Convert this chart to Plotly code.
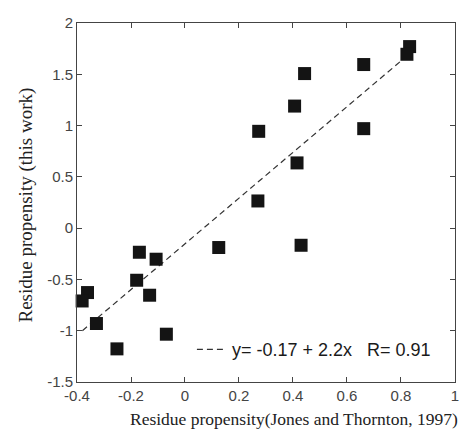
import plotly.graph_objects as go

# residue propensities: Jones & Thornton (1997) vs this work
jt_propensity = [0.832, 0.822, 0.662, 0.443, 0.406, 0.273, 0.662, 0.415, 0.270, 0.125,
                 0.430, -0.169, -0.107, -0.179, -0.131, -0.361, -0.381, -0.328, -0.069, -0.252]
this_work = [1.77, 1.695, 1.595, 1.507, 1.19, 0.944, 0.97, 0.636, 0.265, -0.189,
             -0.167, -0.235, -0.303, -0.508, -0.654, -0.628, -0.71, -0.93, -1.034, -1.177]

# fitted line y = -0.17 + 2.2x, end points as drawn
fit_x = [-0.38, 0.80]
fit_y = [-1.0, 1.63]
fit_label = "y= -0.17 + 2.2x&nbsp;&nbsp;&nbsp;R= 0.91"

x_ticks = [-0.4, -0.2, 0, 0.2, 0.4, 0.6, 0.8, 1]
x_labels = ["-0.4", "-0.2", "0", "0.2", "0.4", "0.6", "0.8", "1"]
y_ticks = [-1.5, -1, -0.5, 0, 0.5, 1, 1.5, 2]
y_labels = ["-1.5", "-1", "-0.5", "0", "0.5", "1", "1.5", "2"]

fig = go.Figure()
fig.add_trace(go.Scatter(x=fit_x, y=fit_y, mode="lines", name=fit_label,
                         line=dict(color="#333333", width=1.2, dash="6px,4px")))
fig.add_trace(go.Scatter(x=jt_propensity, y=this_work, mode="markers", showlegend=False,
                         cliponaxis=False,
                         marker=dict(symbol="square", size=13, color="#141414",
                                     line=dict(width=0))))

axis_common = dict(showgrid=False, zeroline=False, showline=True, mirror="ticks",
                   linecolor="#444444", linewidth=1, ticks="inside", ticklen=5,
                   tickcolor="#444444", automargin=False, ticklabeloverflow="allow",
                   tickfont=dict(family="Liberation Sans", size=15, color="#444444"))
fig.update_xaxes(range=[-0.4, 1.0001], tickvals=x_ticks, ticktext=x_labels, **axis_common)
fig.update_yaxes(range=[-1.5, 2], tickvals=y_ticks, ticktext=y_labels, **axis_common)

# axis titles as annotations so they can sit off-centre like the original
title_font = dict(family="Liberation Serif", size=17.5, color="#222222")
fig.add_annotation(text="Residue propensity(Jones and Thornton, 1997)", font=title_font,
                   xref="paper", yref="paper", x=0.574, y=0, xanchor="center",
                   yanchor="middle", yshift=-37, showarrow=False)
fig.add_annotation(text="Residue propensity (this work)", font=dict(title_font, size=19),
                   xref="paper", yref="paper", x=0, y=0.5, xanchor="center",
                   yanchor="middle", xshift=-52, yshift=-3, textangle=-90, showarrow=False)

fig.update_layout(width=464, height=438, margin=dict(l=77, r=9, t=23, b=56),
                  plot_bgcolor="white", paper_bgcolor="white",
                  legend=dict(x=0.304, y=0.09, xanchor="left", yanchor="middle",
                              bgcolor="rgba(0,0,0,0)", itemwidth=30,
                              font=dict(family="Liberation Sans", size=18, color="#1a1a1a")))

# drop the default body margin so the page does not scroll (and clip the right edge)
fig.write_html("out.html", config={"displayModeBar": False},
               post_script="document.body.style.margin='0';document.body.style.overflow='hidden';")
